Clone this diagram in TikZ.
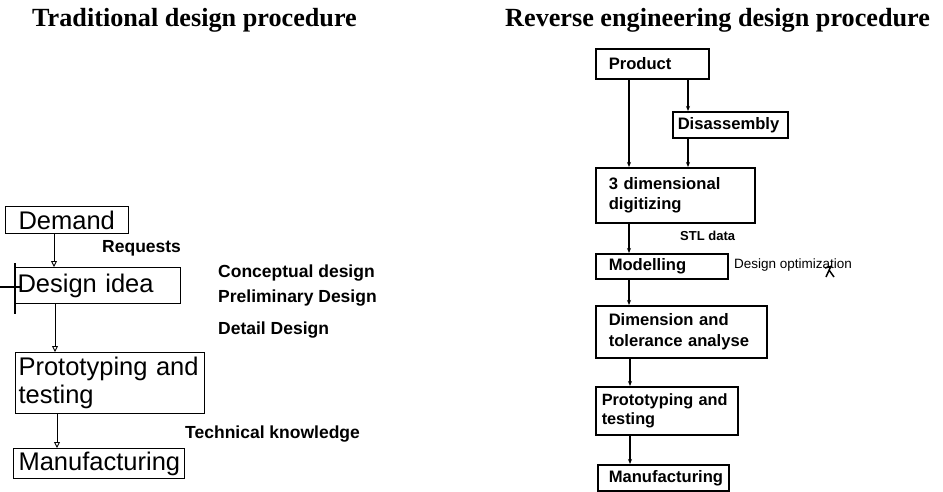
\documentclass[tikz,border=0pt]{standalone}
\usepackage{fontspec}
\setmainfont{Liberation Serif}
\newfontfamily\arialf{Liberation Sans}
\usetikzlibrary{arrows.meta}
\begin{document}
\begin{tikzpicture}[x=1pt,y=-1pt,
 lbox/.style={draw, line width=1.1pt, anchor=north west, align=left, inner ysep=0pt, font=\arialf\fontsize{25.5}{28}\selectfont},
 rbox/.style={draw, line width=1.5pt, anchor=north west, align=left, inner ysep=0pt, font=\arialf\bfseries\fontsize{16.6}{20.5}\selectfont},
 larr/.style={-{Triangle[open,length=6pt,width=6pt]}, line width=0.9pt},
 rarr/.style={-{Stealth[length=5pt,width=4pt]}, line width=1.1pt},
 note/.style={anchor=base west, inner sep=0pt, font=\arialf\bfseries\fontsize{17.5}{20}\selectfont},
 small/.style={anchor=base west, inner sep=0pt, font=\arialf\bfseries\fontsize{13}{15}\selectfont},
 ttl/.style={anchor=base west, inner sep=0pt, font=\bfseries\fontsize{26.2}{30}\selectfont}]
\useasboundingbox (0,0) rectangle (943,491);
\fill[white] (0,0) rectangle (943,491);

% titles
\node[ttl] (t1) at (32,26) {Traditional design procedure};
\node[ttl] (t2) at (505,26) {Reverse engineering design procedure};

% left: traditional
\node[lbox, minimum width=123pt, minimum height=27pt, inner xsep=13pt, text width=97pt] (dem) at (5,206) {Demand};
\node[lbox, minimum width=165pt, minimum height=36pt, inner xsep=2pt, text width=161pt] (des) at (15,267) {Design~idea};
\node[lbox, minimum width=189pt, minimum height=61pt, inner xsep=3pt, text width=183pt] (pro) at (15,352) {Prototyping~and\\testing};
\node[lbox, minimum width=171pt, minimum height=30pt, inner xsep=5pt, text width=161pt] (man) at (13,448) {Manufacturing};

\draw[larr] ([xshift=49pt]dem.south west) -- ([xshift=39pt]des.north west);
\draw[larr] ([xshift=40pt]des.south west) -- ([xshift=40pt]pro.north west);
\draw[larr] ([xshift=42pt]pro.south west) -- ([xshift=44pt]man.north west);

\draw[line width=1.1pt] ([yshift=4pt]des.north west) -- ([yshift=-10pt]des.south west);
\coordinate (tk) at (0,287);
\draw[line width=1.1pt] (tk) -- ++(20,0);

\node[note] (req) at (102,252) {Requests};
\node[note] (cd) at (218,277) {Conceptual design};
\node[note] (pd) at (218,302) {Preliminary Design};
\node[note] (dd) at (218,334) {Detail Design};
\node[note] (tk2) at (185,438) {Technical knowledge};

% right: reverse engineering
\node[rbox, minimum width=113pt, minimum height=30pt, inner xsep=13pt, text width=87pt] (prod) at (595,48) {Product};
\node[rbox, minimum width=115pt, minimum height=26pt, inner xsep=5pt, text width=105pt] (dis) at (672,111) {Disassembly};
\node[rbox, minimum width=159pt, minimum height=55pt, inner xsep=13pt, text width=133pt] (dig) at (595,167) {3~dimensional\\digitizing};
\node[rbox, minimum width=132pt, minimum height=25pt, inner xsep=13pt, text width=106pt] (mod) at (595,253) {Modelling};
\node[rbox, minimum width=171pt, minimum height=52pt, inner xsep=13pt, text width=145pt] (dim) at (595,305) {Dimension~and\\tolerance~analyse};
\node[rbox, minimum width=142pt, minimum height=48pt, inner xsep=6pt, text width=130pt, font=\arialf\bfseries\fontsize{16.3}{19}\selectfont] (rpro) at (595,386) {Prototyping~and\\testing};
\node[rbox, minimum width=131pt, minimum height=26pt, inner xsep=11pt, text width=109pt] (rman) at (597,464) {Manufacturing};

\draw[rarr] ([xshift=34pt]prod.south west) -- ([xshift=34pt]dig.north west);
\draw[rarr] ([xshift=93pt]prod.south west) -- ([xshift=16pt]dis.north west);
\draw[rarr] ([xshift=16pt]dis.south west) -- ([xshift=93pt]dig.north west);
\draw[rarr] ([xshift=34pt]dig.south west) -- ([xshift=34pt]mod.north west);
\draw[rarr] ([xshift=34pt]mod.south west) -- ([xshift=34pt]dim.north west);
\draw[rarr] ([xshift=35pt]dim.south west) -- ([xshift=35pt]rpro.north west);
\draw[rarr] ([xshift=35pt]rpro.south west) -- ([xshift=33pt]rman.north west);

\node[small] (stl) at (680,240) {STL data};
\node[anchor=base west, inner sep=0pt, font=\arialf\fontsize{13.5}{15}\selectfont] (opt) at (734,268) {Design optimization};
\draw[line width=1.5pt] (825,268) -- (832,266) (831,266) -- (826,277) (829,270) -- (834,277);
\end{tikzpicture}
\end{document}
